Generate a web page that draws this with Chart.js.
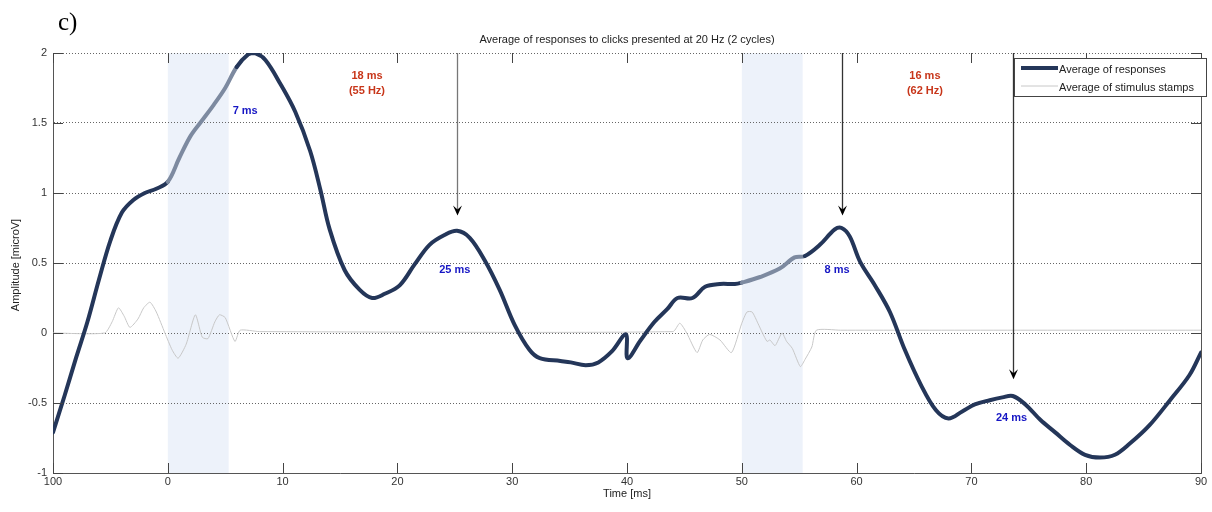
<!DOCTYPE html>
<html>
<head>
<meta charset="utf-8">
<script src="https://cdn.jsdelivr.net/npm/chart.js@4.4.1/dist/chart.umd.min.js"></script>
<style>
html,body{margin:0;padding:0;background:#fff;}
#wrap{width:1212px;height:512px;position:relative;}
</style>
</head>
<body>
<div id="wrap"><canvas id="c"></canvas></div>
<script>
// ---- data ----
const respTime = [-10,-9,-8,-7,-6,-5,-4,-3,-2,-1,0,1,2,3,4,5,6,7,7.6,8.5,9.8,11.1,12.4,13.3,14.1,15.4,16.7,17.8,18.9,20.2,21.5,22.8,24.1,25.2,26.3,27.6,28.9,30.2,31.5,32.4,34.2,35.1,36.4,37.5,38.7,39.9,40.05,41.2,42.4,43.5,44.4,45.7,46.8,48.1,49.4,50,51.6,53.3,54.6,55.5,56.8,58.1,58.7,59.4,60.3,61.6,62.9,64.2,65.6,66.9,68.0,69.2,70.3,71.6,72.7,73.6,74.7,76.0,77.3,78.6,79.9,81.2,82.5,83.8,85.5,87.3,89.0,90];
const respAmp  = [-0.71,-0.45,-0.18,0.08,0.38,0.66,0.86,0.95,1.00,1.03,1.08,1.25,1.41,1.52,1.63,1.75,1.90,1.99,2.00,1.95,1.78,1.58,1.30,1.02,0.74,0.45,0.31,0.25,0.28,0.34,0.49,0.63,0.70,0.73,0.68,0.52,0.31,0.06,-0.12,-0.18,-0.20,-0.21,-0.23,-0.21,-0.13,-0.01,-0.18,-0.05,0.08,0.17,0.25,0.25,0.33,0.35,0.35,0.36,0.40,0.46,0.54,0.55,0.63,0.74,0.75,0.69,0.51,0.34,0.15,-0.12,-0.37,-0.55,-0.61,-0.56,-0.51,-0.48,-0.46,-0.45,-0.51,-0.62,-0.71,-0.80,-0.87,-0.89,-0.87,-0.79,-0.66,-0.48,-0.30,-0.14];

const stimTime = [-10,-5.5,-4.85,-4.3,-3.8,-3.3,-2.6,-2.1,-1.55,-1.0,-0.25,0.37,0.9,1.6,2.4,3.0,3.5,4.1,4.5,5.0,5.85,6.3,8,44.0,44.6,45.2,46.1,46.6,47.2,48.1,49.1,50.0,50.45,50.9,51.4,51.8,52.2,52.45,52.9,53.5,53.9,54.4,55.1,55.5,56.1,56.5,58.6,90];
const stimAmp  = [0,0,0.08,0.18,0.12,0.04,0.10,0.18,0.22,0.15,0.0,-0.12,-0.18,-0.08,0.13,-0.03,-0.04,0.08,0.13,0.11,-0.06,0.02,0.01,0.01,0.07,0.0,-0.14,-0.05,-0.01,-0.05,-0.14,0.07,0.15,0.15,0.07,0.0,-0.06,-0.05,-0.09,0.0,-0.06,-0.11,-0.24,-0.19,-0.10,0.02,0.02,0.02];

const xTickValues = [-10,0,10,20,30,40,50,60,70,80,90];
const xTickLabels = ['100','0','10','20','30','40','50','60','70','80','90'];
const yTickValues = [-1,-0.5,0,0.5,1,1.5,2];
const yTickLabels = ['-1','-0.5','0','0.5','1','1.5','2'];

const stimStart = [0,50];
const stimEnd   = [5.3,55.3];

const arrowX   = [25.2,58.7,73.6];
const arrowTip = [0.84,0.84,-0.33];

const noteText  = ['7 ms','18 ms','(55 Hz)','25 ms','8 ms','16 ms','(62 Hz)','24 ms'];
const noteX     = [6.74,17.35,17.35,25.0,58.3,65.95,65.95,73.5];
const noteY     = [1.586,1.836,1.729,0.45,0.45,1.836,1.729,-0.607];
const noteKind  = ['b','r','r','b','b','r','r','b'];

const seriesNames = ['Average of responses','Average of stimulus stamps'];
const titleText = 'Average of responses to clicks presented at 20 Hz (2 cycles)';

// ---- chart ----
const DARK = '#243659';
const LIGHT = '#7d8aa0';
const FONT = "'Liberation Sans', Arial, sans-serif";

function inStim(t){
  for (let i=0;i<stimStart.length;i++){ if (t>=stimStart[i]-1e-9 && t<stimEnd[i]) return true; }
  return false;
}

const plugin = {
  id:'extras',
  beforeDraw(chart){
    const {ctx, chartArea:a, scales:{x}} = chart;
    ctx.save();
    ctx.fillStyle = '#edf2fa';
    for (let i=0;i<stimStart.length;i++){
      const x0 = x.getPixelForValue(stimStart[i]), x1 = x.getPixelForValue(stimEnd[i]);
      ctx.fillRect(x0, a.top, x1-x0, a.bottom-a.top);
    }
    ctx.restore();
  },
  afterDraw(chart){
    const {ctx, chartArea:a, scales:{x,y}} = chart;
    ctx.save();
    // frame right
    ctx.strokeStyle = '#555'; ctx.lineWidth = 1;
    ctx.beginPath(); ctx.moveTo(a.right+0.5, a.top); ctx.lineTo(a.right+0.5, a.bottom); ctx.stroke();
    // inward ticks
    ctx.strokeStyle = '#444';
    ctx.beginPath();
    xTickValues.forEach(v=>{
      const px = Math.round(x.getPixelForValue(v))+0.5;
      ctx.moveTo(px, a.bottom); ctx.lineTo(px, a.bottom-10);
      ctx.moveTo(px, a.top); ctx.lineTo(px, a.top+10);
    });
    yTickValues.forEach(v=>{
      const py = Math.round(y.getPixelForValue(v))+0.5;
      ctx.moveTo(a.left, py); ctx.lineTo(a.left+10, py);
      ctx.moveTo(a.right, py); ctx.lineTo(a.right-10, py);
    });
    ctx.stroke();
    // arrows
    for (let i=0;i<arrowX.length;i++){
      const px = Math.round(x.getPixelForValue(arrowX[i]))+0.5;
      const ty = y.getPixelForValue(arrowTip[i]);
      ctx.strokeStyle = i===0 ? '#777' : '#333';
      ctx.lineWidth = 1.3;
      ctx.beginPath(); ctx.moveTo(px, a.top); ctx.lineTo(px, ty-5); ctx.stroke();
      ctx.fillStyle = '#000';
      ctx.beginPath();
      ctx.moveTo(px, ty); ctx.lineTo(px-4.5, ty-10); ctx.lineTo(px, ty-6); ctx.lineTo(px+4.5, ty-10);
      ctx.closePath(); ctx.fill();
    }
    // annotations
    ctx.font = 'bold 11px ' + FONT;
    ctx.textAlign = 'center'; ctx.textBaseline = 'middle';
    for (let i=0;i<noteText.length;i++){
      ctx.fillStyle = noteKind[i]==='b' ? '#1616c4' : '#c8361a';
      ctx.fillText(noteText[i], x.getPixelForValue(noteX[i]), y.getPixelForValue(noteY[i]));
    }
    // title
    ctx.fillStyle = '#222';
    ctx.font = '11px ' + FONT;
    ctx.fillText(titleText, (a.left+a.right)/2, 40);
    // x axis title
    ctx.fillText('Time [ms]', (a.left+a.right)/2, 494);
    // y axis title
    ctx.save();
    ctx.translate(16, 265); ctx.rotate(-Math.PI/2);
    ctx.fillText('Amplitude [microV]', 0, 0);
    ctx.restore();
    // panel label
    ctx.fillStyle = '#000';
    ctx.font = "25px 'Liberation Serif', 'Times New Roman', serif";
    ctx.textAlign = 'left'; ctx.textBaseline = 'alphabetic';
    ctx.fillText('c)', 58, 30);
    // legend
    const lx = 1014, ly = 58, lw = 192, lh = 38;
    ctx.fillStyle = '#fff';
    ctx.fillRect(lx, ly, lw, lh);
    ctx.strokeStyle = '#444'; ctx.lineWidth = 1;
    ctx.strokeRect(lx+0.5, ly+0.5, lw, lh);
    ctx.lineWidth = 4; ctx.strokeStyle = DARK;
    ctx.beginPath(); ctx.moveTo(lx+7, ly+10); ctx.lineTo(lx+44, ly+10); ctx.stroke();
    ctx.lineWidth = 1; ctx.strokeStyle = '#c8c8c8';
    ctx.beginPath(); ctx.moveTo(lx+7, ly+28); ctx.lineTo(lx+44, ly+28); ctx.stroke();
    ctx.fillStyle = '#222'; ctx.font = '11px ' + FONT; ctx.textBaseline = 'middle';
    ctx.fillText(seriesNames[0], lx+45, ly+12);
    ctx.fillText(seriesNames[1], lx+45, ly+30);
    ctx.restore();
  }
};

new Chart(document.getElementById('c'), {
  type:'line',
  data:{
    datasets:[
      {
        label: seriesNames[0],
        data: respTime.map((t,i)=>({x:t, y:respAmp[i]})),
        borderColor: DARK,
        borderWidth: 4,
        pointRadius: 0,
        tension: 0.35,
        borderCapStyle: 'round',
        borderJoinStyle: 'round',
        segment:{ borderColor: c => inStim(c.p0.parsed.x) ? LIGHT : DARK }
      },
      {
        label: seriesNames[1],
        data: stimTime.map((t,i)=>({x:t, y:stimAmp[i]})),
        borderColor: '#c8c8c8',
        borderWidth: 1,
        pointRadius: 0,
        tension: 0.2
      }
    ]
  },
  options:{
    responsive:true,
    maintainAspectRatio:false,
    animation:false,
    layout:{padding:{top:53,right:11,left:0,bottom:0}},
    plugins:{legend:{display:false}, title:{display:false}, tooltip:{enabled:false}},
    scales:{
      x:{
        type:'linear', min:-10, max:90,
        afterBuildTicks: s => { s.ticks = xTickValues.map(v=>({value:v})); },
        afterFit: s => { s.height = 39; },
        ticks:{
          padding:2, color:'#333', font:{family:FONT, size:11}, maxRotation:0, autoSkip:false,
          callback:(v)=>{ const i = xTickValues.indexOf(v); return i>=0 ? xTickLabels[i] : ''; }
        },
        grid:{display:true, drawOnChartArea:false, drawTicks:false},
        border:{display:true, color:'#555', width:1}
      },
      y:{
        type:'linear', min:-1, max:2,
        afterBuildTicks: s => { s.ticks = yTickValues.map(v=>({value:v})); },
        afterFit: s => { s.width = 53; },
        ticks:{
          padding:6, color:'#333', font:{family:FONT, size:11},
          callback:(v)=>{ const i = yTickValues.indexOf(v); return i>=0 ? yTickLabels[i] : ''; }
        },
        grid:{color:'#666', lineWidth:1, drawTicks:false},
        border:{display:true, color:'#555', width:1, dash:[1,2]}
      }
    }
  },
  plugins:[plugin]
});
</script>
</body>
</html>
